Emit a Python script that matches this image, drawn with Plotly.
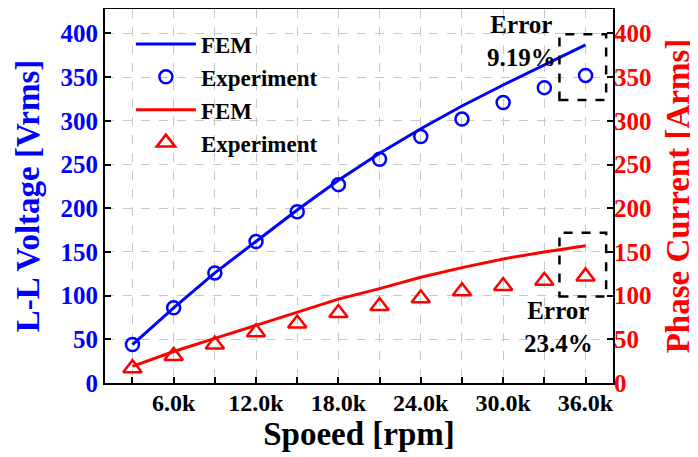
import plotly.graph_objects as go

speed = [3000, 6000, 9000, 12000, 15000, 18000, 21000, 24000, 27000, 30000, 33000, 36000]
volt_fem = [44, 86, 126, 162, 198, 232, 263, 291, 317, 341, 364, 387]
volt_exp = [44, 86, 126, 162, 196, 227, 256, 282, 302, 321, 338, 352]
curr_fem = [19, 36, 51, 66, 81, 96, 108, 121, 132, 142, 150, 157]
curr_exp = [17, 31, 44, 58, 68, 80, 88, 97, 105, 111, 117, 122]

tick_vals = [3000 * i for i in range(1, 13)]
tick_text = ["" if (v // 3000) % 2 else f"{v/1000:.1f}k" for v in tick_vals]
y_ticks = list(range(0, 401, 50))

FONT = "Liberation Serif"
BLUE = "#0000FF"
RED = "#FF0000"

fig = go.Figure()
fig.add_trace(go.Scatter(x=speed, y=volt_fem, mode="lines", name="FEM",
                         line=dict(color=BLUE, width=3), legendgroup="a"))
fig.add_trace(go.Scatter(x=speed, y=volt_exp, mode="markers", name="Experiment",
                         marker=dict(symbol="circle-open", size=13, color=BLUE,
                                     line=dict(width=2.5, color=BLUE)), legendgroup="b"))
fig.add_trace(go.Scatter(x=speed, y=curr_fem, mode="lines", name="FEM", yaxis="y2",
                         line=dict(color=RED, width=3), legendgroup="c"))
fig.add_trace(go.Scatter(x=speed, y=curr_exp, mode="markers", name="Experiment", yaxis="y2",
                         marker=dict(symbol="triangle-up-open", size=16, color=RED,
                                     line=dict(width=2.5, color=RED)), legendgroup="d"))

box = dict(type="rect", xref="x", yref="y", line=dict(color="black", width=2.5, dash="dash"))
fig.add_shape(**box, x0=34100, x1=37500, y0=324, y1=399)
fig.add_shape(**box, x0=34100, x1=37500, y0=99, y1=172)

ann_font = dict(family=FONT, size=25, color="black")
fig.add_annotation(x=31300, y=391.5, xref="x", yref="y", text="<b>Error</b><br><b>9.19%</b>",
                   showarrow=False, font=ann_font, align="center")
fig.add_annotation(x=34050, y=64.5, xref="x", yref="y", text="<b>Error</b><br><b>23.4%</b>",
                   showarrow=False, font=ann_font, align="center")

fig.update_layout(
    width=690, height=449,
    margin=dict(l=97, r=85, t=1, b=74),
    plot_bgcolor="white", paper_bgcolor="white",
    font=dict(family=FONT),
    showlegend=True,
    legend=dict(x=0.051, y=0.964, xanchor="left", yanchor="top",
                bgcolor="rgba(0,0,0,0)", tracegroupgap=0, itemwidth=60,
                font=dict(family=FONT, size=23, color="black", weight="bold")),
    xaxis=dict(range=[1000, 38000], tickvals=tick_vals, ticktext=tick_text,
               ticks="inside", ticklen=6, tickwidth=2, tickcolor="black",
               ticklabelstandoff=-3,
               showline=True, linecolor="black", linewidth=2, mirror=True,
               showgrid=True, gridcolor="#c8c8c8", griddash="dash", gridwidth=1,
               zeroline=False, automargin=False,
               tickfont=dict(family=FONT, size=24, color="black", weight="bold"),
               title=dict(text="<b>Spoeed [rpm]</b>", font=dict(family=FONT, size=33, color="black"),
                          standoff=7)),
    yaxis=dict(range=[0, 428], tickvals=y_ticks,
               ticks="inside", ticklen=6, tickwidth=2, tickcolor="black",
               showline=True, linecolor="black", linewidth=2, mirror=True,
               showgrid=True, gridcolor="#c8c8c8", griddash="dash", gridwidth=1,
               zeroline=False, automargin=False,
               tickfont=dict(family=FONT, size=25, color=BLUE, weight="bold"),
               title=dict(text="<b>L-L Voltage [Vrms]</b>", font=dict(family=FONT, size=33, color=BLUE),
                          standoff=11)),
    yaxis2=dict(range=[0, 428], tickvals=y_ticks, overlaying="y", side="right",
                ticks="inside", ticklen=6, tickwidth=2, tickcolor="black",
                showline=False, showgrid=False, zeroline=False, automargin=False,
                tickfont=dict(family=FONT, size=25, color=RED, weight="bold"),
                title=dict(text="<b>Phase Current [Arms]</b>", font=dict(family=FONT, size=33, color=RED),
                           standoff=15)),
)

fig.write_html("out.html")
